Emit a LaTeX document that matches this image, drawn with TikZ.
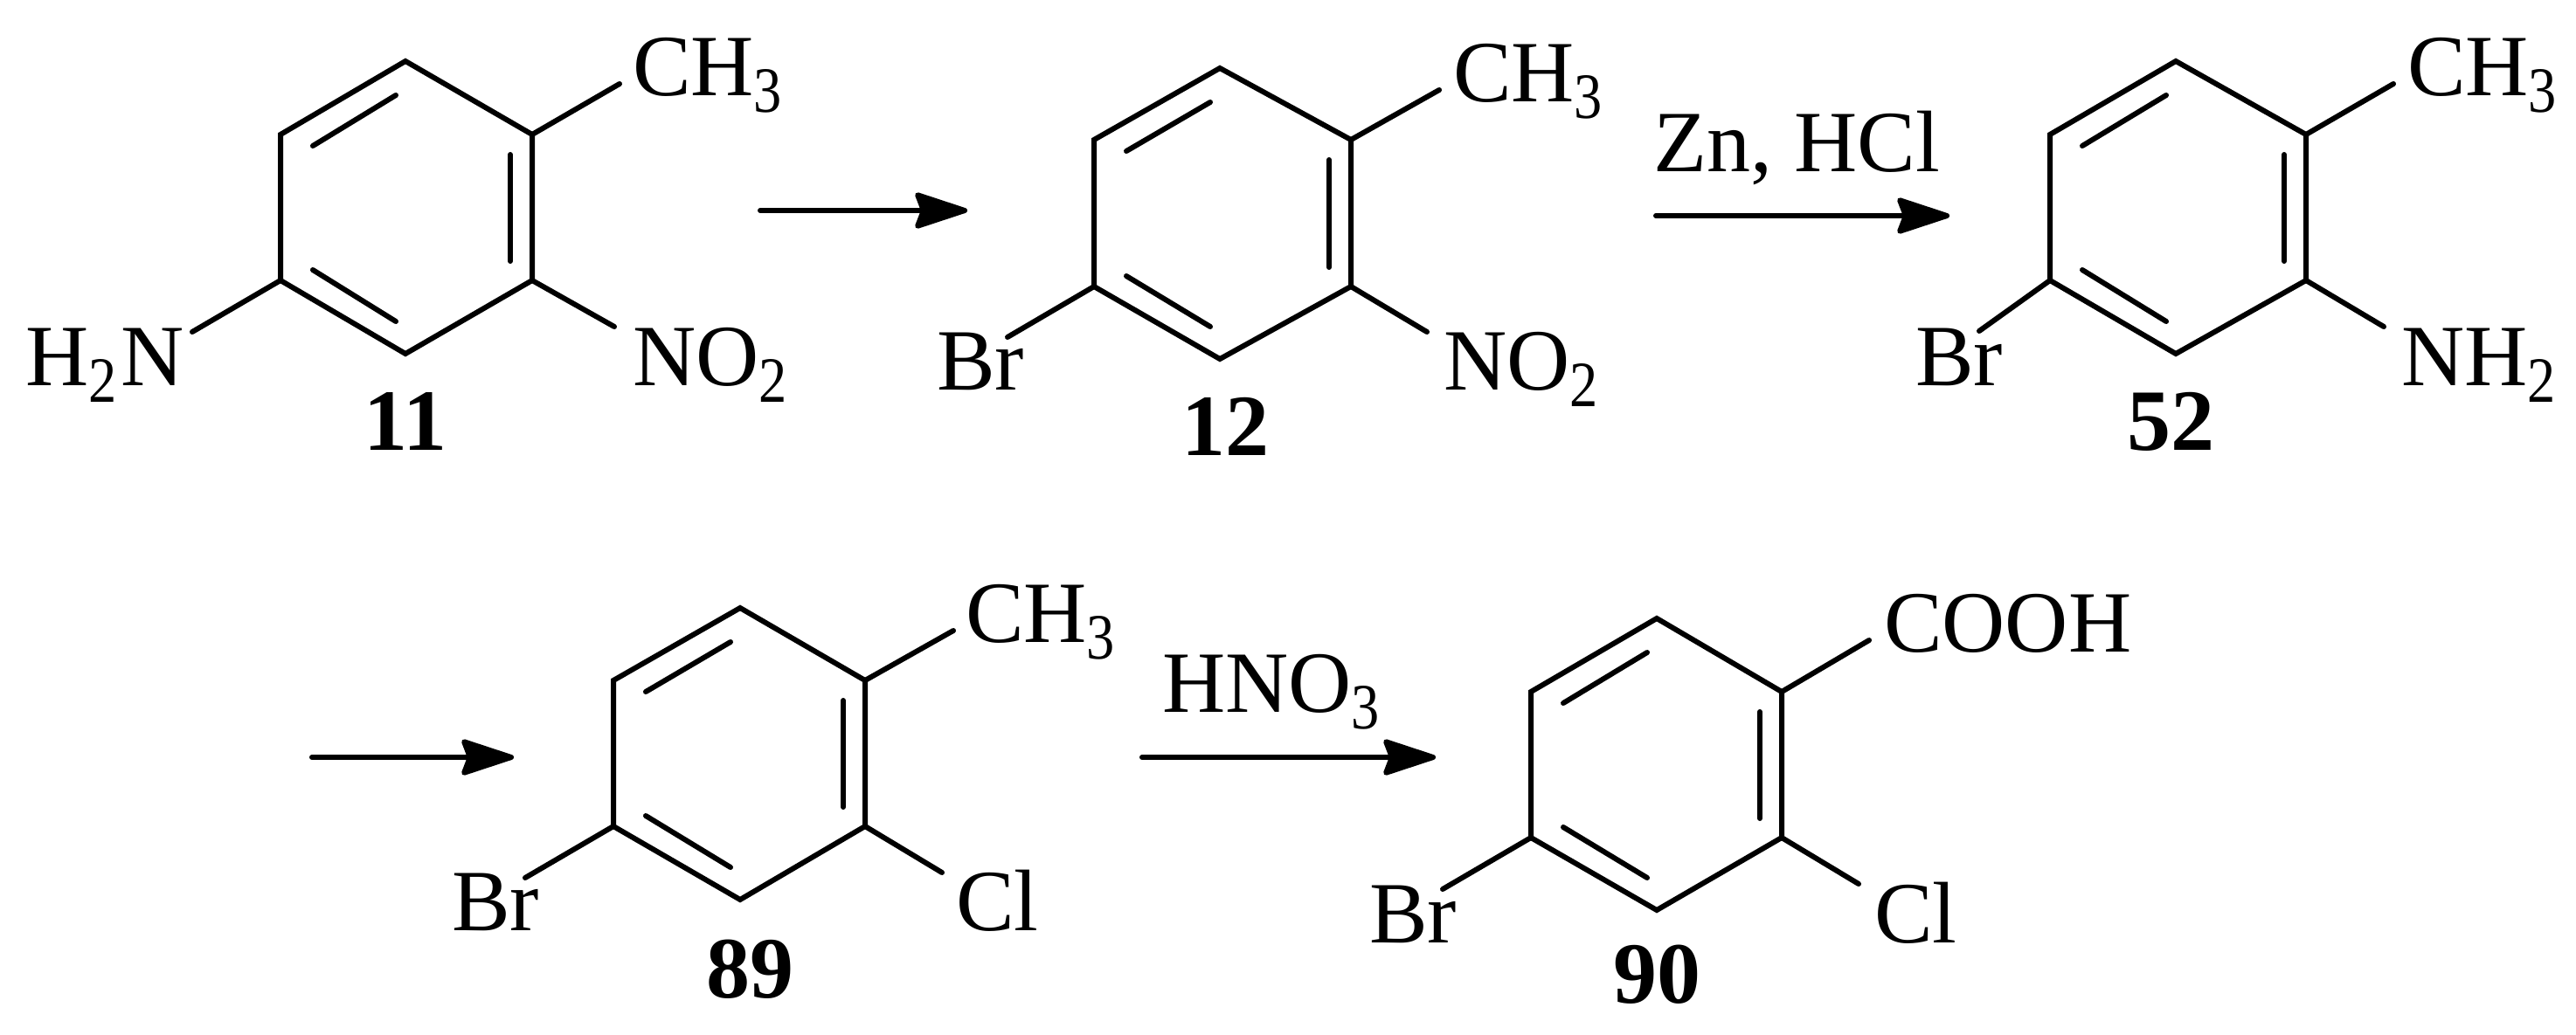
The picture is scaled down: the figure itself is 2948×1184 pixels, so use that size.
\documentclass[tikz,border=0pt]{standalone}
\usepackage{fontspec}
\usepackage{graphicx}
\setmainfont{Liberation Serif}
\usetikzlibrary{calc,arrows.meta}
\newcommand{\subs}[1]{{\fontsize{37}{37}\selectfont\raisebox{-9.5pt}{\scalebox{0.87}[1]{#1}}}}
\tikzset{
  bond/.style={line width=3pt,line cap=round,line join=miter},
  rxn/.style={line width=3pt,line cap=round,-{Stealth[length=34pt,width=22pt,inset=4pt,round]}},
  chem/.style={inner sep=0pt,outer sep=0pt,anchor=base west,font=\fontsize{50}{50}\selectfont},
  cmpd/.style={inner sep=0pt,outer sep=0pt,anchor=base,font=\fontsize{50}{50}\selectfont\bfseries},
}
% prefix, top x, left x, right x, top y, upper y, lower y, bottom y
\newcommand{\ring}[8]{%
  \coordinate (#1t) at (#2,#5);
  \coordinate (#1ul) at (#3,#6);
  \coordinate (#1ll) at (#3,#7);
  \coordinate (#1b) at (#2,#8);
  \coordinate (#1lr) at (#4,#7);
  \coordinate (#1ur) at (#4,#6);
  \draw[bond] (#1t) -- (#1ul) -- (#1ll) -- (#1b) -- (#1lr) -- (#1ur) -- cycle;
  \draw[bond] ($(#1ur)+(-25,23)$) -- ($(#1lr)+(-25,-22)$);
  \draw[bond] ($(#1ul)+(37,13)$) -- ($(#1t)+(-11,39)$);
  \draw[bond] ($(#1ll)+(37,-12)$) -- ($(#1b)+(-11,-37)$);
}
\begin{document}
\begin{tikzpicture}[x=0.5pt,y=-0.5pt]
\useasboundingbox (0,0) rectangle (2948,1184);

% compound 11
\ring{a}{464}{321}{609}{70}{154}{321}{405}
\coordinate (aCe) at (709,96);
\coordinate (aNe) at (703,374);
\coordinate (aHe) at (220,380);
\draw[bond] (aur) -- (aCe);
\draw[bond] (alr) -- (aNe);
\draw[bond] (all) -- (aHe);
\node[chem] (aC) at (724,109) {CH\subs{3}};
\node[chem] (aN) at (724,441) {NO\subs{2}};
\node[chem] (aH) at (29,441) {H\subs{2}\kern2.5ptN};
\node[cmpd] (aL) at (464,515) {11};

% arrow 1
\coordinate (r1s) at (870,241);
\coordinate (r1e) at (1107,241);
\draw[rxn] (r1s) -- (r1e);

% compound 12
\ring{b}{1396}{1252}{1546}{78}{160}{328}{411}
\coordinate (bCe) at (1647,103);
\coordinate (bNe) at (1633,380);
\coordinate (bBe) at (1153,386);
\draw[bond] (bur) -- (bCe);
\draw[bond] (blr) -- (bNe);
\draw[bond] (bll) -- (bBe);
\node[chem] (bC) at (1663,116) {CH\subs{3}};
\node[chem] (bN) at (1652,446) {NO\subs{2}};
\node[chem] (bB) at (1072,446) {Br};
\node[cmpd] (bL) at (1402,521) {12};

% arrow 2
\coordinate (r2s) at (1895,247);
\coordinate (r2e) at (2231,247);
\draw[rxn] (r2s) -- (r2e);
\node[chem] (r2t) at (1892,196) {Zn, HCl};

% compound 52
\ring{c}{2490}{2346}{2639}{70}{154}{321}{405}
\coordinate (cCe) at (2739,96);
\coordinate (cNe) at (2728,374);
\coordinate (cBe) at (2265,379);
\draw[bond] (cur) -- (cCe);
\draw[bond] (clr) -- (cNe);
\draw[bond] (cll) -- (cBe);
\node[chem] (cC) at (2755,109) {CH\subs{3}};
\node[chem] (cN) at (2748,441) {NH\subs{2}};
\node[chem] (cB) at (2192,441) {Br};
\node[cmpd] (cL) at (2484,515) {52};

% arrow 3
\coordinate (r3s) at (357,867);
\coordinate (r3e) at (588,867);
\draw[rxn] (r3s) -- (r3e);

% compound 89
\ring{d}{847}{702}{990}{696}{779}{946}{1030}
\coordinate (dCe) at (1091,722);
\coordinate (dCle) at (1078,999);
\coordinate (dBe) at (601,1005);
\draw[bond] (dur) -- (dCe);
\draw[bond] (dlr) -- (dCle);
\draw[bond] (dll) -- (dBe);
\node[chem] (dC) at (1105,735) {CH\subs{3}};
\node[chem] (dCl) at (1094,1065) {Cl};
\node[chem] (dB) at (517,1065) {Br};
\node[cmpd] (dL) at (858,1142) {89};

% arrow 4
\coordinate (r4s) at (1307,867);
\coordinate (r4e) at (1643,867);
\draw[rxn] (r4s) -- (r4e);
\node[chem] (r4t) at (1330,815) {HNO\subs{3}};

% compound 90
\ring{e}{1896}{1752}{2039}{708}{792}{959}{1042}
\coordinate (eCe) at (2139,733);
\coordinate (eCle) at (2127,1012);
\coordinate (eBe) at (1651,1018);
\draw[bond] (eur) -- (eCe);
\draw[bond] (elr) -- (eCle);
\draw[bond] (ell) -- (eBe);
\node[chem] (eC) at (2156,746) {COOH};
\node[chem] (eCl) at (2145,1079) {Cl};
\node[chem] (eB) at (1567,1079) {Br};
\node[cmpd] (eL) at (1896,1148) {90};
\end{tikzpicture}
\end{document}
